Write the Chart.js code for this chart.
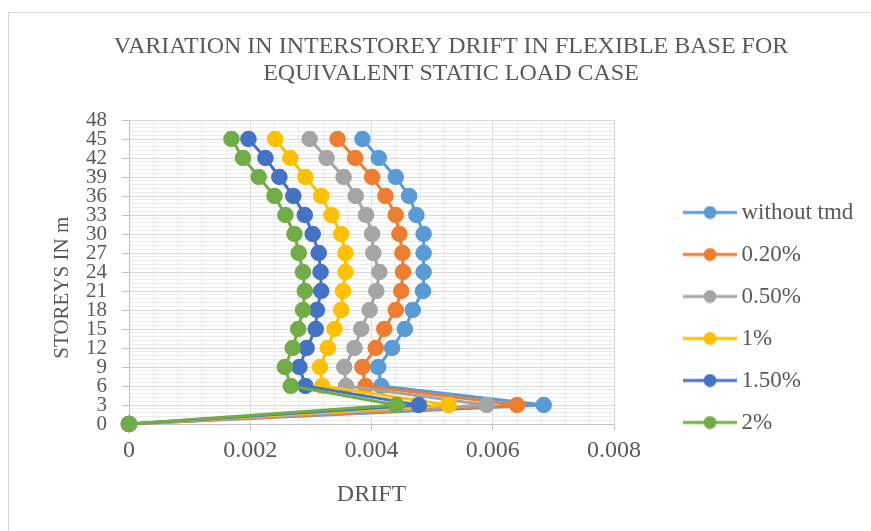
<!DOCTYPE html>
<html>
<head>
<meta charset="utf-8">
<script src="https://cdn.jsdelivr.net/npm/chart.js@4.4.1/dist/chart.umd.min.js"></script>
<style>
  html, body { margin: 0; padding: 0; background: #fff; }
  #wrap { width: 871px; height: 531px; }
</style>
</head>
<body>
<div id="wrap"><canvas id="drift_chart" width="871" height="531"></canvas></div>
<script>
// storey heights (m) and drift
const storeys = [0, 3, 6, 9, 12, 15, 18, 21, 24, 27, 30, 33, 36, 39, 42, 45];
const seriesNames = ['without tmd', '0.20%', '0.50%', '1%', '1.50%', '2%'];
const seriesColors = ['#5B9BD5', '#ED7D31', '#A5A5A5', '#FFC000', '#4472C4', '#70AD47'];

const drift_without = [0, 0.00684, 0.00416, 0.00411, 0.00434, 0.00455, 0.00468, 0.00485, 0.00486, 0.00486, 0.00486, 0.00474, 0.00462, 0.00440, 0.00412, 0.00385];
const drift_020 = [0, 0.00640, 0.00390, 0.00385, 0.00407, 0.00421, 0.00440, 0.00449, 0.00452, 0.00451, 0.00446, 0.00440, 0.00423, 0.00401, 0.00373, 0.00344];
const drift_050 = [0, 0.00590, 0.00358, 0.00355, 0.00372, 0.00383, 0.00397, 0.00408, 0.00413, 0.00403, 0.00401, 0.00391, 0.00374, 0.00354, 0.00326, 0.00298];
const drift_1 = [0, 0.00527, 0.00319, 0.00315, 0.00328, 0.00339, 0.00350, 0.00353, 0.00357, 0.00357, 0.00350, 0.00334, 0.00317, 0.00291, 0.00266, 0.00241];
const drift_150 = [0, 0.00478, 0.00291, 0.00281, 0.00293, 0.00308, 0.00310, 0.00317, 0.00316, 0.00313, 0.00303, 0.00290, 0.00271, 0.00248, 0.00225, 0.00197];
const drift_2 = [0, 0.00441, 0.00267, 0.00257, 0.00270, 0.00279, 0.00287, 0.00290, 0.00287, 0.00280, 0.00273, 0.00258, 0.00240, 0.00214, 0.00188, 0.00169];

const allDrift = [drift_without, drift_020, drift_050, drift_1, drift_150, drift_2];

// x axis: major every 0.002, minor every 0.0004 ; y axis: major every 3, minor every 0.6
const xMax = 0.008, xMinorStep = 0.0004;
const yMax = 48, yMinorStep = 0.6;

const textColor = '#595959';
const serif = '"Liberation Serif", "Times New Roman", serif';

// line+dot picture for the legend, drawn in the right part of a wider transparent canvas
// so the legend sits further right (chart.js centres the image in the box)
function legendIcon(color) {
  const c = document.createElement('canvas');
  c.width = 111; c.height = 14;
  const g = c.getContext('2d');
  g.strokeStyle = color;
  g.lineWidth = 3;
  g.beginPath(); g.moveTo(57, 7); g.lineTo(111, 7); g.stroke();
  g.fillStyle = color;
  g.beginPath(); g.arc(84, 7, 6.5, 0, Math.PI * 2); g.fill();
  return c;
}

const datasets = allDrift.map((vals, i) => ({
  label: seriesNames[i],
  data: vals.map((v, k) => ({x: v, y: storeys[k]})),
  showLine: true,
  borderColor: seriesColors[i],
  backgroundColor: seriesColors[i],
  pointBackgroundColor: seriesColors[i],
  pointBorderColor: seriesColors[i],
  borderWidth: 3,
  pointRadius: 6.8,
  pointHoverRadius: 6.8,
  tension: 0,
  clip: false,
  order: allDrift.length - i   // later series drawn on top, like the original
}));

// frame around the chart like the pasted excel object
const framePlugin = {
  id: 'frame',
  beforeDraw(chart) {
    const ctx = chart.ctx;
    ctx.save();
    ctx.fillStyle = '#ffffff';
    ctx.fillRect(0, 0, chart.width, chart.height);
    ctx.strokeStyle = '#d9d9d9';
    ctx.lineWidth = 1;
    ctx.strokeRect(8.5, 12.5, chart.width + 20, chart.height + 20);
    ctx.restore();
  }
};

function isMajor(value, step, every) {
  return Math.round(value / step) % every === 0;
}

const ctx = document.getElementById('drift_chart').getContext('2d');
const my_chart = new Chart(ctx, {
  type: 'scatter',
  data: { datasets: datasets },
  plugins: [framePlugin],
  options: {
    responsive: false,
    animation: false,
    layout: { padding: { left: 35, right: 4, top: 12, bottom: 0 } },
    plugins: {
      title: {
        display: true,
        text: ['VARIATION IN INTERSTOREY DRIFT IN FLEXIBLE BASE FOR', 'EQUIVALENT STATIC LOAD CASE'],
        color: textColor,
        font: { family: serif, size: 24, weight: 'normal', lineHeight: 1.125 },
        padding: { top: 21, bottom: 33 }
      },
      legend: {
        position: 'right',
        maxWidth: 300,
        title: { display: true, text: ' ', font: { size: 10 }, padding: { top: 0, bottom: 80 } },
        labels: {
          usePointStyle: true,
          pointStyleWidth: 97,
          boxHeight: 14,
          padding: 19,
          color: textColor,
          font: { family: serif, size: 23 },
          generateLabels(chart) {
            return chart.data.datasets.map((ds, i) => ({
              text: ds.label,
              fillStyle: ds.borderColor,
              strokeStyle: ds.borderColor,
              fontColor: textColor,
              lineWidth: 0,
              pointStyle: legendIcon(ds.borderColor),
              hidden: false,
              datasetIndex: i
            }));
          }
        }
      },
      tooltip: { enabled: false }
    },
    scales: {
      x: {
        type: 'linear',
        min: 0,
        max: xMax,
        afterBuildTicks(scale) {
          const t = [];
          for (let i = 0; i <= Math.round(xMax / xMinorStep); i++) t.push({value: i * xMinorStep});
          scale.ticks = t;
        },
        afterFit(scale) {
          scale.height = 107;
          scale.paddingRight = 871 - 614;
          scale.paddingLeft = 129;
        },
        ticks: {
          autoSkip: false,
          maxRotation: 0,
          padding: 6,
          color: textColor,
          font: { family: serif, size: 24 },
          callback(value) {
            if (!isMajor(value, xMinorStep, 5)) return '';
            return value === 0 ? '0' : value.toFixed(3);
          }
        },
        grid: {
          color: c => (c.tick && isMajor(c.tick.value, xMinorStep, 5)) ? '#d9d9d9' : '#ececec',
          tickColor: c => (c.tick && isMajor(c.tick.value, xMinorStep, 5)) ? '#bfbfbf' : 'rgba(0,0,0,0)',
          tickLength: 6
        },
        border: { color: '#bfbfbf' },
        title: {
          display: true,
          text: 'DRIFT',
          color: textColor,
          font: { family: serif, size: 24 },
          padding: { top: 0, bottom: 22 }
        }
      },
      y: {
        type: 'linear',
        min: 0,
        max: yMax,
        afterBuildTicks(scale) {
          const t = [];
          for (let i = 0; i <= Math.round(yMax / yMinorStep); i++) t.push({value: i * yMinorStep});
          scale.ticks = t;
        },
        afterFit(scale) {
          scale.width = 129 - 35;
        },
        ticks: {
          autoSkip: false,
          padding: 15,
          color: textColor,
          font: { family: serif, size: 21, lineHeight: 1 },
          callback(value) {
            if (!isMajor(value, yMinorStep, 5)) return '';
            return String(Math.round(value));
          }
        },
        grid: {
          color: c => (c.tick && isMajor(c.tick.value, yMinorStep, 5)) ? '#d9d9d9' : '#ececec',
          tickColor: c => (c.tick && isMajor(c.tick.value, yMinorStep, 5)) ? '#bfbfbf' : 'rgba(0,0,0,0)',
          tickLength: 7
        },
        border: { color: '#bfbfbf' },
        title: {
          display: true,
          // trailing spaces nudge the rotated title down a little, as in the original
          text: 'STOREYS IN m      ',
          color: textColor,
          font: { family: serif, size: 21 },
          padding: { top: 15, bottom: 0 }
        }
      }
    }
  }
});
</script>
</body>
</html>
